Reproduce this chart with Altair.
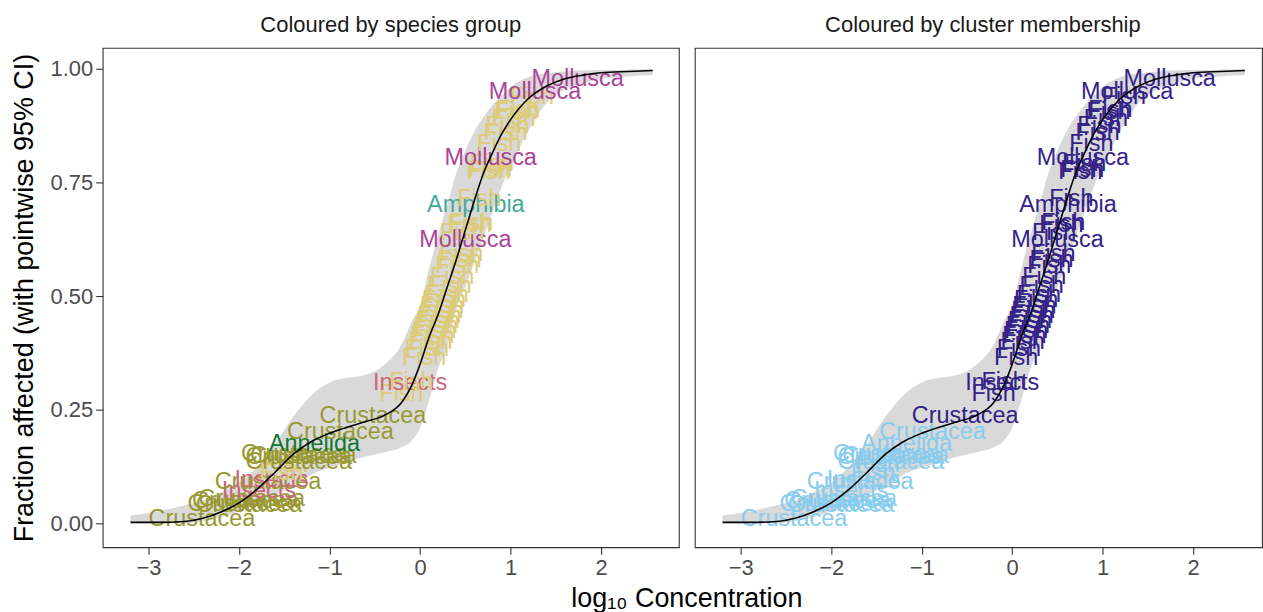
import altair as alt
import pandas as pd

FONT = "Liberation Sans"

# Species-level toxicity values (log10 concentration, label left edge) and plotting positions
label_group = [
    "Crustacea", "Crustacea", "Crustacea", "Crustacea", "Crustacea", "Insects",
    "Crustacea", "Insects", "Fish", "Fish", "Crustacea", "Crustacea", "Crustacea",
    "Crustacea", "Annelida", "Crustacea",
    "Crustacea", "Fish", "Insects", "Fish", "Fish", "Fish", "Fish", "Fish", "Fish",
    "Fish", "Fish", "Fish", "Fish", "Fish", "Fish", "Fish", "Fish", "Fish", "Fish",
    "Fish", "Fish", "Mollusca", "Fish", "Fish", "Fish", "Amphibia", "Fish", "Fish",
    "Fish", "Fish", "Mollusca", "Fish", "Fish", "Fish", "Fish", "Fish", "Fish",
    "Fish", "Mollusca", "Mollusca",
]
label_x = [
    -3.00, -2.57, -2.52, -2.48, -2.45, -2.19,
    -2.27, -2.05, -1.78, -1.73, -1.93, -1.98, -1.93,
    -1.88, -1.67, -1.47,
    -1.11, -0.45, -0.52, -0.34, -0.20, -0.17, -0.13, -0.11, -0.09,
    -0.07, -0.05, -0.03, -0.01, 0.00, 0.02, 0.05, 0.08, 0.11, 0.165,
    0.19, 0.21, -0.01, 0.22, 0.30, 0.32, 0.077, 0.41, 0.51,
    0.53, 0.55, 0.27, 0.63, 0.70, 0.72, 0.79, 0.82, 0.84,
    0.99, 0.76, 1.23,
]
label_y = [
    0.016, 0.050, 0.056, 0.046, 0.060, 0.078,
    0.097, 0.101, 0.118, 0.135, 0.141, 0.158, 0.152,
    0.155, 0.180, 0.207,
    0.243, 0.290, 0.315, 0.318, 0.371, 0.390, 0.405, 0.418, 0.430,
    0.441, 0.452, 0.463, 0.474, 0.485, 0.497, 0.509, 0.528, 0.548, 0.572,
    0.586, 0.600, 0.630, 0.645, 0.663, 0.668, 0.706, 0.720, 0.780,
    0.784, 0.796, 0.811, 0.840, 0.866, 0.880, 0.897, 0.912, 0.916,
    0.945, 0.956, 0.985,
]
label_cluster = ["1"] * 16 + ["2"] * 40

# Fitted mixture distribution with pointwise 95% interval
fit_x = [-3.2, -2.9, -2.6, -2.4, -2.2, -2.0, -1.8, -1.6, -1.4, -1.2, -1.0, -0.8,
         -0.6, -0.4, -0.2, -0.1, 0.0, 0.1, 0.2, 0.3, 0.4, 0.5, 0.6, 0.7, 0.8,
         0.9, 1.0, 1.2, 1.4, 1.6, 1.8, 2.0, 2.3, 2.57]
fit_y = [0.002, 0.002, 0.004, 0.011, 0.025, 0.045, 0.075, 0.113, 0.152, 0.180,
         0.198, 0.212, 0.224, 0.237, 0.267, 0.300, 0.350, 0.410, 0.460, 0.520,
         0.580, 0.645, 0.710, 0.770, 0.815, 0.856, 0.888, 0.935, 0.962, 0.978,
         0.986, 0.991, 0.994, 0.996]
fit_lo = [0.000, 0.000, 0.000, 0.005, 0.014, 0.026, 0.043, 0.062, 0.083, 0.107,
          0.122, 0.135, 0.147, 0.156, 0.168, 0.180, 0.210, 0.270, 0.340, 0.390,
          0.470, 0.520, 0.573, 0.628, 0.685, 0.740, 0.785, 0.865, 0.925, 0.955,
          0.968, 0.978, 0.983, 0.986]
fit_hi = [0.017, 0.026, 0.040, 0.050, 0.068, 0.090, 0.125, 0.175, 0.235, 0.282,
          0.310, 0.320, 0.327, 0.348, 0.395, 0.440, 0.480, 0.560, 0.635, 0.700,
          0.770, 0.820, 0.862, 0.893, 0.920, 0.940, 0.960, 0.982, 0.990, 0.994,
          0.996, 0.997, 0.998, 0.999]

labels = pd.DataFrame({
    "group": label_group, "x": label_x, "y": label_y, "cluster": label_cluster,
})
fit = pd.DataFrame({"x": fit_x, "fit": fit_y, "lo": fit_lo, "hi": fit_hi})

group_scale = alt.Scale(
    domain=["Amphibia", "Annelida", "Crustacea", "Fish", "Insects", "Mollusca"],
    range=["#44AA99", "#117733", "#999933", "#DDCC77", "#CC6677", "#AA4499"],
)
cluster_scale = alt.Scale(domain=["1", "2"], range=["#88CCEE", "#332288"])

y_scale = alt.Scale(domain=[-0.0526, 1.046], nice=False, zero=False)
x_axis = alt.Axis(values=[-3, -2, -1, 0, 1, 2], format="d", title=None)
y_axis_left = alt.Axis(
    values=[0, 0.25, 0.5, 0.75, 1.0], format=".2f",
    title="Fraction affected (with pointwise 95% CI)",
    titleFontSize=27, titleFontWeight="normal", titleColor="black",
    titleFont=FONT, titlePadding=12,
)


def panel(title, color_field, color_scale, x_domain, width, y_axis, dx=0):
    xs = alt.Scale(domain=x_domain, nice=False, zero=False)
    band = alt.Chart(fit).mark_area(color="#D9D9D9", interpolate="monotone").encode(
        x=alt.X("x:Q", scale=xs, axis=x_axis),
        y=alt.Y("lo:Q", scale=y_scale, axis=y_axis),
        y2="hi:Q",
    )
    text = alt.Chart(labels).mark_text(
        align="left", baseline="middle", font=FONT, fontSize=23.5, dy=3
    ).encode(
        x=alt.X("x:Q", scale=xs, axis=x_axis),
        y=alt.Y("y:Q", scale=y_scale, axis=y_axis),
        text="group:N",
        color=alt.Color(color_field, scale=color_scale, legend=None),
    )
    line = alt.Chart(fit).mark_line(
        color="black", strokeWidth=1.6, interpolate="monotone"
    ).encode(
        x=alt.X("x:Q", scale=xs, axis=x_axis),
        y=alt.Y("fit:Q", scale=y_scale, axis=y_axis),
    )
    return alt.layer(band, text, line).properties(
        width=width,
        height=501,
        title=alt.TitleParams(
            title, anchor="middle", frame="group", fontSize=22,
            fontWeight="normal", color="#1A1A1A", font=FONT, offset=11, dx=dx,
        ),
    )


left = panel("Coloured by species group", "group:N", group_scale,
             [-3.507, 2.859], 578, y_axis_left)
right = panel("Coloured by cluster membership", "cluster:N", cluster_scale,
              [-3.507, 2.760], 569, None, dx=4.5)

chart = alt.hconcat(left, right, spacing=14).resolve_scale(
    color="independent"
).properties(
    title=alt.TitleParams(
        "log\u2081\u2080 Concentration", orient="bottom", anchor="middle",
        fontSize=27, fontWeight="normal", color="black", font=FONT, offset=7, dx=51,
    ),
    padding={"left": 9, "top": 12, "right": 0, "bottom": 0},
).configure_view(
    stroke="#333333", strokeWidth=1.1
).configure_axis(
    grid=False, domain=False, tickColor="#333333", tickSize=7, tickWidth=1.1,
    labelColor="#4D4D4D", labelFontSize=22, labelFont=FONT, labelPadding=3,
)

chart.save("out.html", embed_options={"renderer": "svg", "actions": False})
